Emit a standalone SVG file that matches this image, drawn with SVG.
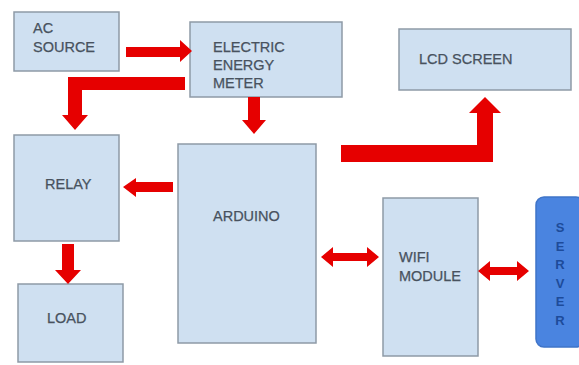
<svg xmlns="http://www.w3.org/2000/svg" width="579" height="365" viewBox="0 0 579 365">
<style>
.box{fill:#cfe0f1;stroke:#8e9aa6;stroke-width:1.5}
.t{font-family:"Liberation Sans",Arial,sans-serif;font-size:14.5px;fill:#48525e;stroke:#48525e;stroke-width:0.25}
.arr{fill:#e60000}
.srv{fill:#4a84e0;stroke:#3f74c8;stroke-width:1.5}
.st{font-family:"Liberation Sans",Arial,sans-serif;font-size:13px;font-weight:bold;fill:#1d4b9a;text-anchor:middle}
</style>
<rect width="579" height="365" fill="#ffffff"/>
<g id="ac-source"><rect class="box" x="14" y="12" width="105" height="59"/><text class="t" x="33" y="33">AC</text><text class="t" x="33" y="52">SOURCE</text></g>
<g id="energy-meter"><rect class="box" x="190" y="22" width="152" height="75"/><text class="t" x="213" y="52">ELECTRIC</text><text class="t" x="213" y="70">ENERGY</text><text class="t" x="213" y="88">METER</text></g>
<g id="lcd-screen"><rect class="box" x="399" y="29" width="172" height="61"/><text class="t" x="419" y="64">LCD SCREEN</text></g>
<g id="relay"><rect class="box" x="14" y="135" width="105" height="106"/><text class="t" x="45" y="189">RELAY</text></g>
<g id="load"><rect class="box" x="18" y="284" width="105" height="78"/><text class="t" x="47" y="323">LOAD</text></g>
<g id="arduino"><rect class="box" x="178" y="144" width="138" height="199"/><text class="t" x="213" y="221">ARDUINO</text></g>
<g id="wifi-module"><rect class="box" x="383" y="198" width="95" height="158"/><text class="t" x="399" y="262">WIFI</text><text class="t" x="399" y="281">MODULE</text></g>
<g id="server"><rect class="srv" x="536" y="197" width="48" height="150" rx="8"/>
<text class="st" x="560" y="232">S</text><text class="st" x="560" y="251">E</text><text class="st" x="560" y="269">R</text><text class="st" x="560" y="288">V</text><text class="st" x="560" y="306">E</text><text class="st" x="560" y="325">R</text></g>
<g id="connectors">
<polygon class="arr" points="126,47 180,47 180,40 192,51 180,62 180,57 126,57"/>
<polygon class="arr" points="185,77 68,77 68,115 62,115 75,130 88,115 82,115 82,90 185,90"/>
<polygon class="arr" points="248,97 260,97 260,120 266,120 254,134 242,120 248,120"/>
<polygon class="arr" points="173,182 136,182 136,178 123,187 136,197 136,192 173,192"/>
<polygon class="arr" points="62,244 74,244 74,270 81,270 68,284 55,270 62,270"/>
<polygon class="arr" points="341,145 477,145 477,113 469,113 485,97 501,113 493,113 493,162 341,162"/>
<polygon class="arr" points="321,257 333,247 333,253 367,253 367,247 379,257 367,267 367,261 333,261 333,267"/>
<polygon class="arr" points="478,271 490,261 490,267 517,267 517,261 529,271 517,281 517,275 490,275 490,281"/>
</g>
</svg>
